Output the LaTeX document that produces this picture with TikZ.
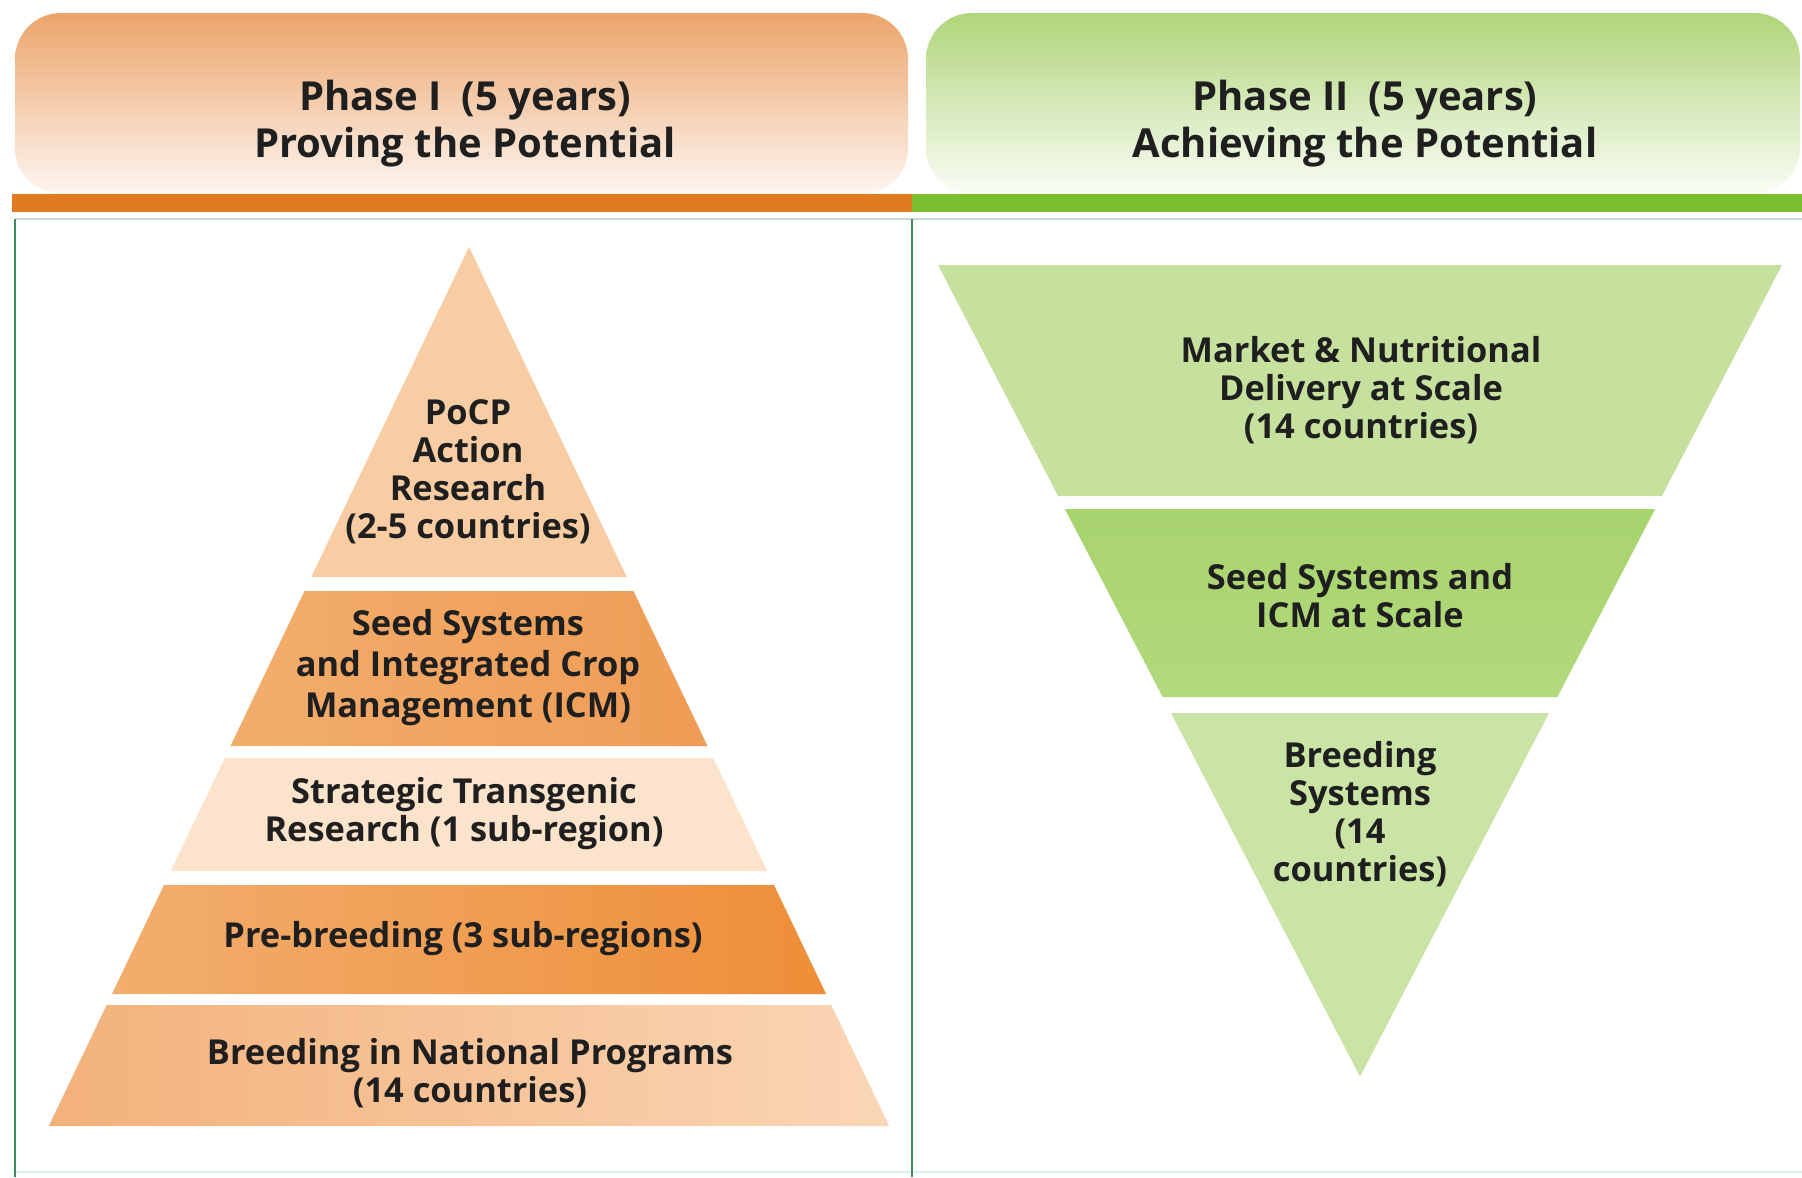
\documentclass[tikz,border=0pt]{standalone}
\usepackage{fontspec}
\setmainfont{Open Sans}
\begin{document}
\begin{tikzpicture}[x=0.5pt,y=-0.5pt,
  hdrtext/.style={font=\bfseries\fontsize{20}{23.5}\selectfont, align=center, text=black!88},
  lbl/.style={font=\bfseries\fontsize{17.2}{19}\selectfont, align=center, text=black!88, inner sep=0pt},
  frameline/.style={draw=frameGreen, line width=0.8pt}]
\definecolor{hOrTop}{HTML}{EBA46A}
\definecolor{hOrMid}{HTML}{F6C798}
\definecolor{hOrBot}{HTML}{FDF6F1}
\definecolor{hGrTop}{HTML}{B0D57A}
\definecolor{hGrMid}{HTML}{D3E9B2}
\definecolor{hGrBot}{HTML}{FAFDF6}
\definecolor{barOr}{HTML}{E07C1F}
\definecolor{barGr}{HTML}{7BBF2E}
\definecolor{frameGreen}{HTML}{3E8C5C}
\definecolor{frameTop}{HTML}{C9DCD2}
\definecolor{frameBot}{HTML}{D6F0EC}
\definecolor{pA}{HTML}{F8CDA4}
\definecolor{pBl}{HTML}{F2AD6C}
\definecolor{pBr}{HTML}{EF9C55}
\definecolor{pC}{HTML}{FCE3CC}
\definecolor{pDl}{HTML}{F2AE6E}
\definecolor{pDr}{HTML}{EE8E38}
\definecolor{pEl}{HTML}{F3B17A}
\definecolor{pEr}{HTML}{FAD6B6}
\definecolor{gA}{HTML}{C6E19E}
\definecolor{gB}{HTML}{A8D46E}
\definecolor{gBb}{HTML}{B2D97C}
\definecolor{gC}{HTML}{C9E4A5}

\useasboundingbox (0,0) rectangle (1802,1177);
\fill[white] (0,0) rectangle (1802,1177);

% headers
\shade[top color=hOrTop, middle color=hOrMid, bottom color=hOrBot, rounded corners=23pt]
  (15,13) rectangle (908,194);
\shade[top color=hGrTop, middle color=hGrMid, bottom color=hGrBot, rounded corners=23pt]
  (926,13) rectangle (1800,194);
\fill[barOr] (12,194) rectangle (912,212);
\fill[barGr] (912,194) rectangle (1802,212);

\node[hdrtext] (h1) at (465,124) {Phase I\enspace(5 years)\\Proving the Potential};
\node[hdrtext] (h2) at (1365,124) {Phase II\enspace(5 years)\\Achieving the Potential};

% panel frame
\draw[frameTop, line width=1pt] (15,219) -- (1802,219);
\draw[frameBot, line width=1pt] (15,1172) -- (1802,1172);
\draw[frameline] (15,219) -- (15,1177);
\draw[frameline] (912,219) -- (912,1177);

% left pyramid: center 469, apex y 247, slope 0.478
\fill[pA] (469,247) -- ({469+0.478*(577-247)},577) -- ({469-0.478*(577-247)},577) -- cycle;
\shade[left color=pBl, right color=pBr]
  ({469-0.478*(591-247)},591) -- ({469+0.478*(591-247)},591) --
  ({469+0.478*(746-247)},746) -- ({469-0.478*(746-247)},746) -- cycle;
\fill[pC]
  ({469-0.478*(758-247)},758) -- ({469+0.478*(758-247)},758) --
  ({469+0.478*(871-247)},871) -- ({469-0.478*(871-247)},871) -- cycle;
\shade[left color=pDl, right color=pDr]
  ({469-0.478*(885-247)},885) -- ({469+0.478*(885-247)},885) --
  ({469+0.478*(994-247)},994) -- ({469-0.478*(994-247)},994) -- cycle;
\shade[left color=pEl, right color=pEr]
  ({469-0.478*(1005-247)},1005) -- ({469+0.478*(1005-247)},1005) --
  ({469+0.478*(1126-247)},1126) -- ({469-0.478*(1126-247)},1126) -- cycle;

\node[lbl] (l1) at (468,472) {PoCP\\Action\\Research\\(2-5 countries)};
\node[lbl, font=\bfseries\fontsize{17.2}{20.5}\selectfont] (l2) at (468,668) {Seed Systems\\and Integrated Crop\\Management (ICM)};
\node[lbl] (l3) at (464,814) {Strategic Transgenic\\Research (1 sub-region)};
\node[lbl] (l4) at (463,939) {Pre-breeding (3 sub-regions)};
\node[lbl] (l5) at (470,1073) {Breeding in National Programs\\(14 countries)};

% right inverted pyramid: center 1360, top y 265, half-width 422, slope 0.52
\fill[gA]
  ({1360-422},265) -- ({1360+422},265) --
  ({1360+422-0.52*(496-265)},496) -- ({1360-422+0.52*(496-265)},496) -- cycle;
\shade[top color=gB, bottom color=gBb]
  ({1360-422+0.52*(509-265)},509) -- ({1360+422-0.52*(509-265)},509) --
  ({1360+422-0.52*(697-265)},697) -- ({1360-422+0.52*(697-265)},697) -- cycle;
\fill[gC]
  ({1360-422+0.52*(713-265)},713) -- ({1360+422-0.52*(713-265)},713) --
  (1360,{265+422/0.52}) -- cycle;

\node[lbl] (r1) at (1361,390) {Market \& Nutritional\\Delivery at Scale\\(14 countries)};
\node[lbl] (r2) at (1360,596) {Seed Systems and\\ICM at Scale};
\node[lbl] (r3) at (1360,814) {Breeding\\Systems\\(14\\countries)};
\end{tikzpicture}
\end{document}
